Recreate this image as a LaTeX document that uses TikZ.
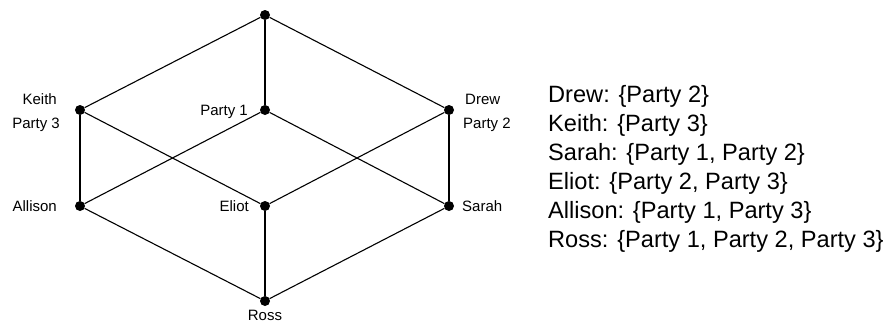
\documentclass[tikz,border=0pt]{standalone}
\usepackage{fontspec}
\setmainfont{Liberation Sans}
\begin{document}
\begin{tikzpicture}[x=1pt,y=-1pt,
  vtx/.style={circle,fill=black,inner sep=0pt,minimum size=10pt},
  edge/.style={line width=1.1pt},
  lbl/.style={inner sep=0pt,font=\fontsize{15}{17}\selectfont},
  lst/.style={inner sep=0pt,anchor=base west,font=\fontsize{23.6}{28}\selectfont}]
\useasboundingbox (0,0) rectangle (887,322);
% lattice vertices
\node[vtx] (top) at (265,15) {};
\node[vtx] (k) at (80,110) {};
\node[vtx] (p1) at (265,110) {};
\node[vtx] (d) at (449,110) {};
\node[vtx] (a) at (80,206) {};
\node[vtx] (e) at (265,206) {};
\node[vtx] (s) at (449,206) {};
\node[vtx] (r) at (265,301) {};
% edges
\draw[edge] (top) -- (k);
\draw[edge] (top) -- (p1);
\draw[edge] (top) -- (d);
\draw[edge] (k) -- (a);
\draw[edge] (k) -- (e);
\draw[edge] (p1) -- (a);
\draw[edge] (p1) -- (s);
\draw[edge] (d) -- (e);
\draw[edge] (d) -- (s);
\draw[edge] (a) -- (r);
\draw[edge] (e) -- (r);
\draw[edge] (s) -- (r);
% vertex labels
\node[lbl,anchor=base east] (lk) at (57,104) {Keith};
\node[lbl,anchor=base east] (lp3) at (60,128) {Party 3};
\node[lbl,anchor=base east] (lp1) at (248,115) {Party 1};
\node[lbl,anchor=base west] (ld) at (465,104) {Drew};
\node[lbl,anchor=base west] (lp2) at (463,128) {Party 2};
\node[lbl,anchor=base east] (la) at (57,211) {Allison};
\node[lbl,anchor=base east] (le) at (249,211) {Eliot};
\node[lbl,anchor=base west] (ls) at (462,211) {Sarah};
\node[lbl,anchor=base] (lr) at (265,320) {Ross};
% party sets
\node[lst] (t1) at (548,102) {Drew: \{Party 2\}};
\node[lst] (t2) at (548,131) {Keith: \{Party 3\}};
\node[lst] (t3) at (548,160) {Sarah: \{Party 1, Party 2\}};
\node[lst] (t4) at (548,189) {Eliot: \{Party 2, Party 3\}};
\node[lst] (t5) at (548,218) {Allison: \{Party 1, Party 3\}};
\node[lst] (t6) at (548,247) {Ross: \{Party 1, Party 2, Party 3\}};
\end{tikzpicture}
\end{document}
